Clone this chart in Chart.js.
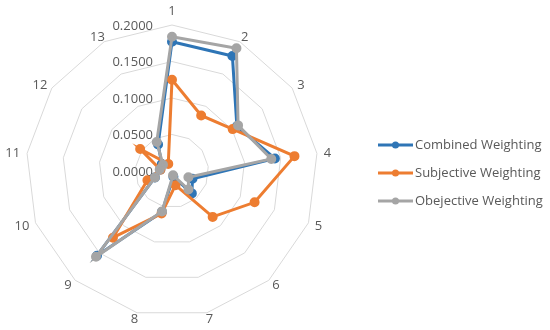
<!DOCTYPE html>
<html>
<head>
<meta charset="utf-8">
<script src="https://cdn.jsdelivr.net/npm/chart.js@4.4.0/dist/chart.umd.min.js"></script>
<style>
  html, body { margin: 0; padding: 0; background: #fff; }
  #wrap { width: 550px; height: 330px; position: relative; }
</style>
</head>
<body>
<div id="wrap"><canvas id="radar" width="550" height="330"></canvas></div>
<script>
const AXES = ["1","2","3","4","5","6","7","8","9","10","11","12","13"];
const TICKS = [0, 0.05, 0.10, 0.15, 0.20];
const SERIES_NAMES = ["Combined Weighting", "Subjective Weighting", "Obejective Weighting"];
const combined   = [0.177, 0.178, 0.108, 0.142, 0.030, 0.041, 0.008, 0.058, 0.155, 0.025, 0.016, 0.017, 0.041];
const subjective = [0.125, 0.086, 0.101, 0.169, 0.121, 0.084, 0.020, 0.060, 0.122, 0.036, 0.016, 0.053, 0.011];
const objective  = [0.184, 0.190, 0.110, 0.137, 0.024, 0.034, 0.006, 0.057, 0.157, 0.025, 0.017, 0.015, 0.045];
const COLORS = ["#2E75B6", "#ED7D31", "#A5A5A5"];

const FONT = '"Open Sans", "Noto Sans", sans-serif';
const TEXT = "#595959";

// Excel-style labels: values left of the vertical axis, category numbers round the rim
const axisText = {
  id: "axisText",
  beforeDatasetsDraw(chart) {
    const s = chart.scales.r;
    const ctx = chart.ctx;
    ctx.save();
    ctx.font = "13px " + FONT;
    ctx.fillStyle = TEXT;
    ctx.textAlign = "right";
    ctx.textBaseline = "middle";
    TICKS.forEach(v => {
      const d = s.getDistanceFromCenterForValue(v);
      ctx.fillText(v.toFixed(4), s.xCenter - 19, s.yCenter - d + 1);
    });

    ctx.textAlign = "center";
    const rim = s.getDistanceFromCenterForValue(s.max) + 6;
    chart.data.labels.forEach((lab, i) => {
      const a = s.getIndexAngle(i);
      const sin = Math.sin(a), cos = Math.cos(a);
      const p = s.getPointPosition(i, rim);
      const w = ctx.measureText(lab).width;
      let x = p.x + sin * (w / 2 + 1);
      let y = p.y + 1;
      if (Math.abs(sin) < 0.1) y -= cos * 9;
      ctx.fillText(lab, x, y);
    });
    ctx.restore();
  }
};

// legend with line + marker, like Excel
const lineLegend = {
  id: "lineLegend",
  afterDraw(chart) {
    const ctx = chart.ctx;
    ctx.save();
    ctx.font = "13px " + FONT;
    ctx.textBaseline = "middle";
    ctx.textAlign = "left";
    chart.data.datasets.forEach((ds, i) => {
      const y = 145 + i * 28;
      ctx.strokeStyle = ds.borderColor;
      ctx.lineWidth = 3;
      ctx.beginPath();
      ctx.moveTo(378, y);
      ctx.lineTo(413, y);
      ctx.stroke();
      ctx.fillStyle = ds.borderColor;
      ctx.beginPath();
      ctx.arc(395.5, y, 3.5, 0, Math.PI * 2);
      ctx.fill();
      ctx.fillStyle = TEXT;
      ctx.fillText(ds.label, 415, y);
    });
    ctx.restore();
  }
};

function mkSet(i, data, order) {
  return {
    label: SERIES_NAMES[i],
    data: data,
    order: order,
    borderColor: COLORS[i],
    backgroundColor: COLORS[i],
    pointBackgroundColor: COLORS[i],
    pointBorderColor: COLORS[i],
    borderWidth: 3,
    pointRadius: 3.5,
    fill: false,
    tension: 0
  };
}

new Chart(document.getElementById("radar"), {
  type: "radar",
  data: {
    labels: AXES,
    datasets: [mkSet(0, combined, 3), mkSet(1, subjective, 2), mkSet(2, objective, 1)]
  },
  options: {
    responsive: false,
    animation: false,
    layout: { padding: { left: 26, right: 232, top: 25, bottom: 13 } },
    plugins: {
      legend: { display: false },
      tooltip: { enabled: false }
    },
    scales: {
      r: {
        min: 0,
        max: 0.2,
        ticks: { stepSize: 0.05, display: false },
        grid: { color: "#d9d9d9", lineWidth: 1 },
        angleLines: { display: false },
        pointLabels: { display: false }
      }
    }
  },
  plugins: [axisText, lineLegend]
});
</script>
</body>
</html>
